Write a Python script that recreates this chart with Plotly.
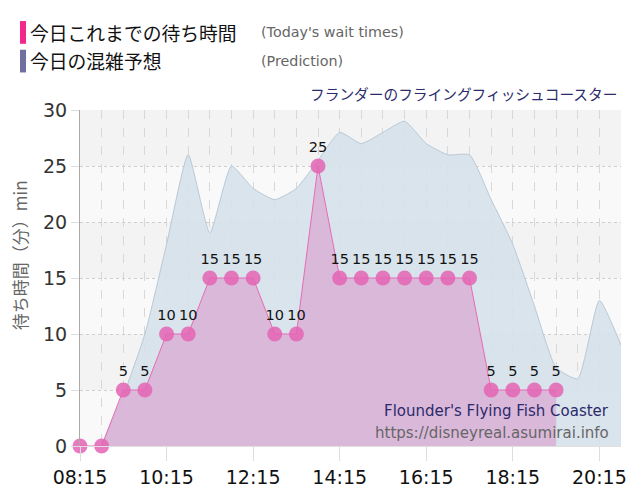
import plotly.graph_objects as go

DAY = "2024-01-01 "

actual_times = ["08:15", "08:45", "09:15", "09:45", "10:15", "10:45", "11:15", "11:45",
                "12:15", "12:45", "13:15", "13:45", "14:15", "14:45", "15:15", "15:45",
                "16:15", "16:45", "17:15", "17:45", "18:15", "18:45", "19:15"]
actual_wait = [0, 0, 5, 5, 10, 10, 15, 15, 15, 10, 10, 25, 15, 15, 15, 15, 15, 15, 15, 5, 5, 5, 5]

pred_times = ["08:45", "09:15", "09:45", "10:15", "10:45", "11:15", "11:45", "12:15",
              "12:45", "13:15", "13:45", "14:15", "14:45", "15:15", "15:45", "16:15",
              "16:45", "17:15", "17:45", "18:15", "18:45", "19:15", "19:45", "20:15", "20:45"]
pred_wait = [0, 4.5, 10, 18, 26, 19, 25, 23, 22, 23, 25.5, 28, 27, 28, 29, 27,
             26, 26, 22, 18, 12.5, 7, 6, 13, 9]

y_ticks = [0, 5, 10, 15, 20, 25, 30]

FONT = "DejaVu Sans, Noto Sans CJK JP, sans-serif"
JFONT = "Noto Sans CJK JP, DejaVu Sans, sans-serif"

fig = go.Figure()

fig.add_trace(go.Scatter(
    x=[DAY + t for t in pred_times], y=pred_wait,
    mode="lines", line=dict(color="#b9c9d6", width=1, shape="spline", smoothing=0.5),
    fill="tozeroy", fillcolor="rgba(214,225,234,0.9)", hoverinfo="skip", showlegend=False))

fig.add_trace(go.Scatter(
    x=[DAY + t for t in actual_times], y=actual_wait,
    mode="lines+markers+text",
    line=dict(color="#e66bb5", width=1),
    marker=dict(size=15, color="rgba(228,100,180,0.85)"),
    fill="tozeroy", fillcolor="rgba(218,170,212,0.75)",
    text=[str(v) if v > 0 else "" for v in actual_wait],
    textposition="top center",
    textfont=dict(family=FONT, size=14.5, color="#111"),
    cliponaxis=False,
    showlegend=False))

shapes = []
for lo in [0, 10, 20]:
    shapes.append(dict(type="rect", xref="paper", yref="y", x0=0, x1=1, y0=lo, y1=lo + 5,
                       fillcolor="#f9f9f9", line=dict(width=0), layer="below"))

W, H = 541.0, 340.0
def px(x):
    return (x - 80) / W
def py(y):
    return (450 - y) / H

# legend swatches
shapes.append(dict(type="rect", xref="paper", yref="paper", x0=px(20), x1=px(26), y0=py(43), y1=py(20),
                   fillcolor="#f0288c", line=dict(width=0)))
shapes.append(dict(type="rect", xref="paper", yref="paper", x0=px(20), x1=px(26), y0=py(72), y1=py(49),
                   fillcolor="#7070a0", line=dict(width=0)))

annotations = [
    dict(text="今日これまでの待ち時間", x=px(28), y=py(32), xref="paper", yref="paper",
         xanchor="left", yanchor="middle", showarrow=False, font=dict(family=JFONT, size=18.8, color="#111")),
    dict(text="(Today's wait times)", x=px(259), y=py(31), xref="paper", yref="paper",
         xanchor="left", yanchor="middle", showarrow=False, font=dict(family=FONT, size=14.3, color="#666")),
    dict(text="今日の混雑予想", x=px(28), y=py(60), xref="paper", yref="paper",
         xanchor="left", yanchor="middle", showarrow=False, font=dict(family=JFONT, size=18.8, color="#111")),
    dict(text="(Prediction)", x=px(259), y=py(60), xref="paper", yref="paper",
         xanchor="left", yanchor="middle", showarrow=False, font=dict(family=FONT, size=14.3, color="#666")),
    dict(text="フランダーのフライングフィッシュコースター", x=px(619), y=py(93), xref="paper", yref="paper",
         xanchor="right", yanchor="middle", showarrow=False, font=dict(family=JFONT, size=14.7, color="#2b2b6b")),
    dict(text="Flounder's Flying Fish Coaster", x=px(611), y=py(415), xref="paper", yref="paper",
         xanchor="right", yanchor="middle", showarrow=False, font=dict(family=FONT, size=15, color="#2b2b6b")),
    dict(text="https://disneyreal.asumirai.info", x=px(611), y=py(437), xref="paper", yref="paper",
         xanchor="right", yanchor="middle", showarrow=False, font=dict(family=FONT, size=15, color="#666")),
    dict(text="待ち時間（分）min", x=px(19), y=py(257), xref="paper", yref="paper", textangle=-90,
         xanchor="center", yanchor="middle", showarrow=False, font=dict(family=JFONT, size=17, color="#666")),
]

fig.update_layout(
    width=640, height=500,
    margin=dict(l=80, r=19, t=110, b=50),
    paper_bgcolor="white", plot_bgcolor="#f3f3f3",
    shapes=shapes, annotations=annotations,
    showlegend=False,
    xaxis=dict(
        type="date", range=[DAY + "08:15", DAY + "20:45"],
        tick0=DAY + "08:15", dtick=7200000, tickformat="%H:%M",
        ticks="outside", ticklen=14, tickcolor="#ddd",
        tickfont=dict(family=FONT, size=19, color="#111"),
        showgrid=True, gridcolor="#d8d8d8", griddash="dash", gridwidth=1,
        minor=dict(dtick=1800000, tick0=DAY + "08:15", showgrid=True, gridcolor="#d8d8d8", griddash="dash"),
        showline=True, linecolor="#e0e0e0", zeroline=False, fixedrange=True),
    yaxis=dict(
        range=[0, 30], tickvals=y_ticks,
        ticks="outside", ticklen=8, tickcolor="#ddd",
        tickfont=dict(family=FONT, size=19, color="#333"),
        showgrid=True, gridcolor="#cfcfcf", griddash="dot",
        showline=True, linecolor="#aaa", zeroline=False, fixedrange=True),
)

fig.write_html("out.html")
